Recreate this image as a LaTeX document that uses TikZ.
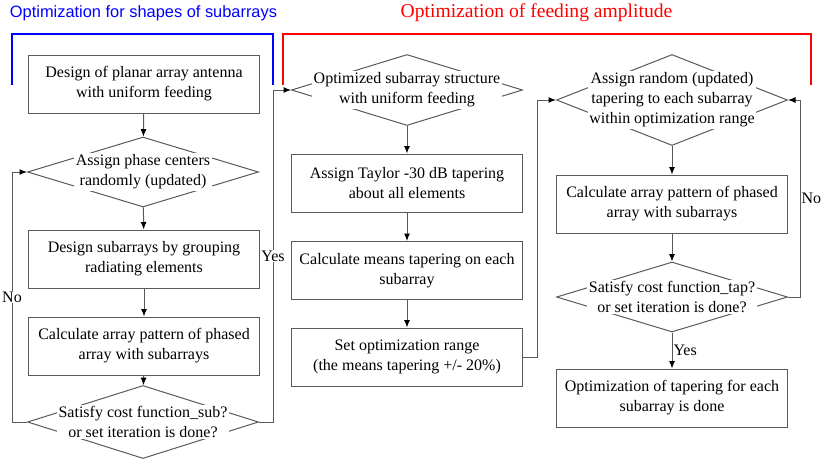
\documentclass[tikz,border=0pt]{standalone}
\usepackage{fontspec}
\setmainfont{Liberation Serif}
\newfontfamily\titlesans{Liberation Sans}
\usepackage{tikz}
\usetikzlibrary{shapes.geometric}
\usetikzlibrary{arrows.meta}

\begin{document}
\begin{tikzpicture}[x = 1pt, y = -1pt,
  box/.style = {draw = black!65, line width = 1pt, minimum width = 231pt, minimum height = 58pt, align = center, font = \fontsize{16}{20}\selectfont, inner sep = 0},
  choice/.style = {draw = black!65, line width = 1pt, diamond, minimum width = 231pt, minimum height = 71pt, inner sep = 0},
  question/.style = {fill = white, align = center, font = \fontsize{16}{20}\selectfont, inner sep = 1.5pt},
  flow/.style = {draw = black!65, line width = 1pt, -{Latex[length = 7.5pt, width = 6pt, color = black]}},
  tag/.style = {fill = white, font = \fontsize{16}{20}\selectfont, inner sep = 1pt}]
  \useasboundingbox (0, 0) rectangle (827, 461);
  \node[blue, font = \titlesans\fontsize{16.4}{20}\selectfont] (title sub) at (143.5, 13) {Optimization for shapes of subarrays};
  \node[red, font = \fontsize{19.6}{24}\selectfont] (title tap) at (536.5, 13) {Optimization of feeding amplitude};
  \draw[blue, line width = 2.4pt] (12, 85) -- (12, 34) -- (273, 34) -- (273, 85);
  \draw[red, line width = 2.4pt] (283, 85) -- (283, 34) -- (811, 34) -- (811, 85);
  \node[box] (b1) at (144, 84) {Design of planar array antenna\\with uniform feeding};
  \node[choice, minimum height = 70pt] (d1) at (143, 172) {};
  \node[question] (d1 text) at (d1) {Assign phase centers\\randomly (updated)};
  \node[box] (b2) at (144, 259) {Design subarrays by grouping\\radiating elements};
  \node[box] (b3) at (144, 346) {Calculate array pattern of phased\\array with subarrays};
  \node[choice, minimum height = 73pt] (d2) at (143, 422) {};
  \node[question] (d2 text) at (d2) {Satisfy cost function\_sub?\\or set iteration is done?};
  \node[choice] (d3) at (407, 90) {};
  \node[question] (d3 text) at (d3) {Optimized subarray structure\\with uniform feeding};
  \node[box] (b4) at (407, 183) {Assign Taylor -30 dB tapering\\about all elements};
  \node[box] (b5) at (407, 270.5) {Calculate means tapering on each\\subarray};
  \node[box] (b6) at (407, 357) {Set optimization range\\(the means tapering +/- 20\%)};
  \node[choice, minimum height = 91pt] (d4) at (672, 100) {};
  \node[question] (d4 text) at (d4) {Assign random (updated)\\tapering to each subarray\\within optimization range};
  \node[box] (b7) at (672, 204) {Calculate array pattern of phased\\array with subarrays};
  \node[choice, minimum height = 70pt] (d5) at (672, 297) {};
  \node[question] (d5 text) at (d5) {Satisfy cost function\_tap?\\or set iteration is done?};
  \node[box] (b8) at (672, 398) {Optimization of tapering for each\\subarray is done};
  \draw[flow] (b1) -- (d1);
  \draw[flow] (d1) -- (b2);
  \draw[flow] (b2) -- (b3);
  \draw[flow] (b3) -- (d2);
  \draw[flow] (d2.west) -- ++(-15, 0) |- node[tag, pos = .25] (no sub) {No} (d1.west);
  \draw[flow] (d2.east) -- ++(14, 0) |- node[tag, pos = .25] (yes sub) {Yes} (d3.west);
  \draw[flow] (d3) -- (b4);
  \draw[flow] (b4) -- (b5);
  \draw[flow] (b5) -- (b6);
  \draw[flow] (b6.east) -- ++(14, 0) |- (d4.west);
  \draw[flow] (d4) -- (b7);
  \draw[flow] (b7) -- (d5);
  \draw[flow] (d5) -- node[tag, right, pos = .5] (yes tap) {Yes} (b8);
  \draw[flow] (d5.east) -- ++(12, 0) |- node[tag, right, pos = .25] (no tap) {No} (d4.east);
\end{tikzpicture}
\end{document}
